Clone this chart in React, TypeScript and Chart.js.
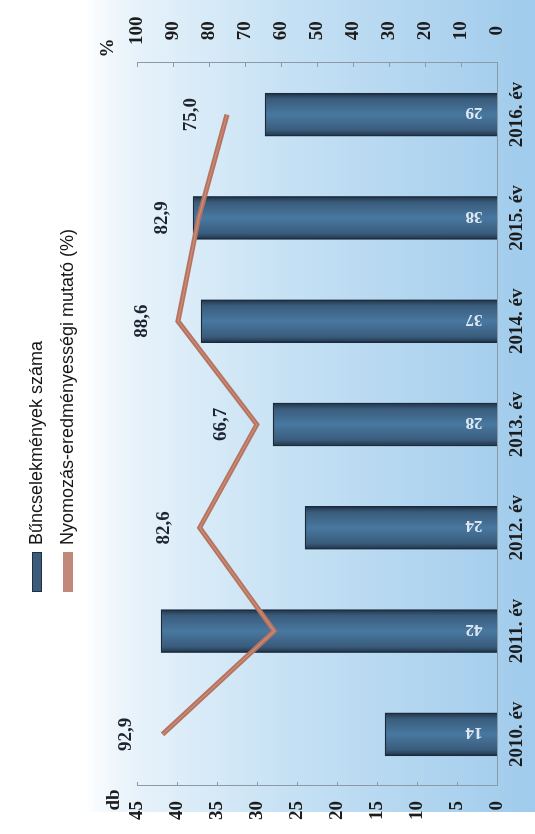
import React, { useEffect, useRef } from 'react';
import { Chart, registerables } from 'chart.js';

Chart.register(...registerables);

// ---- data ----
const categories = ['2010. év', '2011. év', '2012. év', '2013. év', '2014. év', '2015. év', '2016. év'];
const crimeCounts = [14, 42, 24, 28, 37, 38, 29];
const successRates = [92.9, 61.9, 82.6, 66.7, 88.6, 82.9, 75.0];
const successLabels = ['92,9', '', '82,6', '66,7', '88,6', '82,9', '75,0'];
const countAxis = [0, 45, 5]; // min, max, step
const pctAxis = [0, 100, 10];
const legendLabels = ['Bűncselekmények száma', 'Nyomozás-eredményességi mutató (%)'];
const leftAxisTitle = 'db';
const rightAxisTitle = '%';

// ---- styles ----
const SERIF = '"Liberation Serif", "Times New Roman", serif';
const SANS = '"Liberation Sans", Arial, sans-serif';
const W = 834;
const H = 535;
const BAR_T = 43;
const AXIS_COLOR = '#8c9aa7';

const decor = {
  id: 'decor',
  beforeDraw(chart: any) {
    const { ctx, width, height } = chart;
    ctx.save();
    ctx.fillStyle = '#ffffff';
    ctx.fillRect(0, 0, width, height);
    const g = ctx.createLinearGradient(0, 85, 0, height);
    g.addColorStop(0, 'rgba(220,236,248,0)');
    g.addColorStop(0.12, '#e6f2fa');
    g.addColorStop(0.45, '#c6e1f4');
    g.addColorStop(1, '#a0cbec');
    ctx.fillStyle = g;
    ctx.fillRect(22, 85, width - 22, height - 85);
    ctx.restore();
  },
  afterDatasetsDraw(chart: any) {
    const { ctx } = chart;
    ctx.save();
    // count labels inside bar base, rotated
    const barMeta = chart.getDatasetMeta(0);
    ctx.font = 'bold 17px ' + SERIF;
    ctx.fillStyle = '#dfe8f1';
    ctx.textAlign = 'center';
    ctx.textBaseline = 'middle';
    barMeta.data.forEach((bar: any, i: number) => {
      ctx.save();
      ctx.translate(bar.x + 2, bar.base - 23);
      ctx.rotate(-Math.PI / 2);
      ctx.fillText(String(crimeCounts[i]), 0, 0);
      ctx.restore();
    });
    // percentage labels above points
    const lineMeta = chart.getDatasetMeta(1);
    ctx.font = 'bold 19px ' + SERIF;
    ctx.fillStyle = '#1e2430';
    lineMeta.data.forEach((pt: any, i: number) => {
      const t = successLabels[i];
      if (!t) return;
      ctx.fillText(t, pt.x, pt.y - 36);
    });
    ctx.restore();
  },
  afterDraw(chart: any) {
    const { ctx, chartArea } = chart;
    ctx.save();
    // inward tick marks
    ctx.strokeStyle = AXIS_COLOR;
    ctx.lineWidth = 1;
    const ys = chart.scales.y;
    ys.ticks.forEach((t: any) => {
      const p = Math.round(ys.getPixelForValue(t.value)) + 0.5;
      ctx.beginPath();
      ctx.moveTo(chartArea.left, p);
      ctx.lineTo(chartArea.left + 4, p);
      ctx.stroke();
    });
    const y1 = chart.scales.y1;
    y1.ticks.forEach((t: any) => {
      const p = Math.round(y1.getPixelForValue(t.value)) + 0.5;
      ctx.beginPath();
      ctx.moveTo(chartArea.right, p);
      ctx.lineTo(chartArea.right - 4, p);
      ctx.stroke();
    });
    // axis titles
    ctx.font = 'bold 19px ' + SERIF;
    ctx.fillStyle = '#1c1c1c';
    ctx.textAlign = 'center';
    ctx.textBaseline = 'middle';
    ctx.fillText(leftAxisTitle, chartArea.left - 14, chartArea.top - 23);
    ctx.fillText(rightAxisTitle, chartArea.right + 15, chartArea.top - 29);
    // legend
    const lx = 242;
    const rows = [37, 68];
    ctx.fillStyle = '#3d5b7a';
    ctx.fillRect(lx, rows[0] - 5, 40, 10);
    ctx.strokeStyle = '#1f3042';
    ctx.strokeRect(lx + 0.5, rows[0] - 4.5, 39, 9);
    ctx.fillStyle = '#c08979';
    ctx.fillRect(lx, rows[1] - 5, 40, 10);
    ctx.font = '18px ' + SANS;
    ctx.fillStyle = '#161616';
    ctx.textAlign = 'left';
    ctx.fillText(legendLabels[0], lx + 47, rows[0]);
    ctx.fillText(legendLabels[1], lx + 47, rows[1]);
    ctx.restore();
  },
};

function barGradient(c: any) {
  const chart = c.chart;
  const xs = chart.scales && chart.scales.x;
  if (!xs || c.dataIndex == null) return '#3d6080';
  const cx = xs.getPixelForValue(c.dataIndex);
  if (!Number.isFinite(cx)) return '#3d6080';
  const half = BAR_T / 2;
  const g = chart.ctx.createLinearGradient(cx - half, 0, cx + half, 0);
  g.addColorStop(0, '#1f3348');
  g.addColorStop(0.14, '#3a5c7c');
  g.addColorStop(0.5, '#4878a0');
  g.addColorStop(0.86, '#3a5c7c');
  g.addColorStop(1, '#1f3348');
  return g;
}

export default function App() {
  const ref = useRef<HTMLCanvasElement>(null);
  useEffect(() => {
    const chart = new Chart(ref.current as HTMLCanvasElement, {
      type: 'bar',
      data: {
        labels: categories,
        datasets: [
          {
            type: 'bar',
            label: legendLabels[0],
            data: crimeCounts,
            yAxisID: 'y',
            barThickness: BAR_T,
            backgroundColor: barGradient,
            borderColor: '#1b2b3b',
            borderWidth: 1.5,
            order: 2,
          } as any,
          {
            type: 'line',
            label: legendLabels[1],
            data: successRates,
            yAxisID: 'y1',
            borderColor: '#b6735f',
            backgroundColor: '#b6735f',
            borderWidth: 5,
            pointRadius: 0,
            tension: 0,
            borderJoinStyle: 'miter',
            order: 1,
          } as any,
          {
            type: 'line',
            label: 'highlight',
            data: successRates,
            yAxisID: 'y1',
            borderColor: 'rgba(215,160,140,0.6)',
            borderWidth: 1.2,
            pointRadius: 0,
            tension: 0,
            borderJoinStyle: 'miter',
            order: 0,
          } as any,
        ],
      },
      options: {
        responsive: false,
        animation: false,
        events: [],
        layout: { padding: { top: 137, left: 0, right: 0, bottom: 0 } },
        plugins: {
          legend: { display: false },
          tooltip: { enabled: false },
          title: { display: false },
        },
        scales: {
          x: {
            type: 'category',
            grid: { display: false, drawTicks: false },
            border: { display: true, color: AXIS_COLOR, width: 1 },
            ticks: {
              font: { family: SERIF, size: 19, weight: 'bold' },
              color: '#1c1c1c',
              padding: 9,
              maxRotation: 0,
              autoSkip: false,
            },
            afterFit: (s: any) => { s.height = H - 497; },
          },
          y: {
            position: 'left',
            min: countAxis[0],
            max: countAxis[1],
            grid: { display: false, drawTicks: false },
            border: { display: true, color: AXIS_COLOR, width: 1 },
            ticks: {
              stepSize: countAxis[2],
              font: { family: SERIF, size: 19, weight: 'bold' },
              color: '#1c1c1c',
              padding: 15,
            },
            afterFit: (s: any) => { s.width = 48; },
          },
          y1: {
            position: 'right',
            min: pctAxis[0],
            max: pctAxis[1],
            grid: { display: false, drawTicks: false },
            border: { display: true, color: AXIS_COLOR, width: 1 },
            ticks: {
              stepSize: pctAxis[2],
              font: { family: SERIF, size: 19, weight: 'bold' },
              color: '#1c1c1c',
              padding: 18,
              crossAlign: 'center',
            },
            afterFit: (s: any) => { s.width = W - 771; },
          },
        },
      } as any,
      plugins: [decor],
    });
    return () => chart.destroy();
  }, []);

  return (
    <div
      style={{
        position: 'absolute',
        left: 0,
        top: 0,
        width: W,
        height: H,
        transformOrigin: '0 0',
        transform: `translateY(${W}px) rotate(-90deg)`,
        background: '#ffffff',
      }}
    >
      <canvas ref={ref} width={W} height={H} style={{ display: 'block', width: W, height: H }} />
    </div>
  );
}
